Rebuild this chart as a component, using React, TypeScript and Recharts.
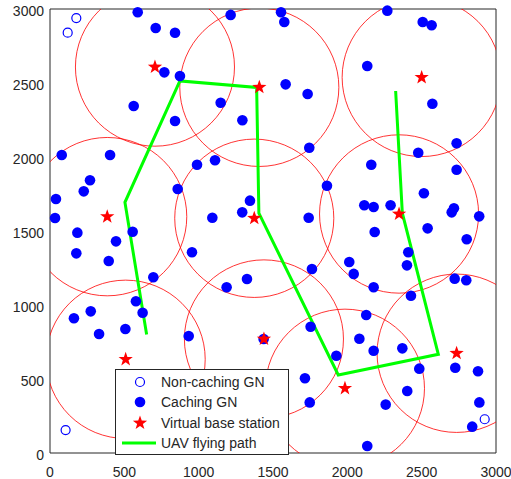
import React from "react"
import { ComposedChart, Scatter, XAxis, YAxis } from "recharts"

const TICKS = [0, 500, 1000, 1500, 2000, 2500, 3000]

const CACHING_GN = [
  { x: 590, y: 2978 }, { x: 711, y: 2872 }, { x: 841, y: 2840 }, { x: 769, y: 2572 },
  { x: 874, y: 2547 }, { x: 563, y: 2345 }, { x: 841, y: 2243 }, { x: 1148, y: 2367 },
  { x: 1294, y: 2248 }, { x: 1215, y: 2960 }, { x: 79, y: 2014 }, { x: 404, y: 2014 },
  { x: 269, y: 1843 }, { x: 227, y: 1768 }, { x: 40, y: 1716 }, { x: 34, y: 1588 },
  { x: 184, y: 1489 }, { x: 556, y: 1495 }, { x: 444, y: 1430 }, { x: 859, y: 1784 },
  { x: 989, y: 1948 }, { x: 1110, y: 1978 }, { x: 1345, y: 1705 }, { x: 1293, y: 1626 },
  { x: 1092, y: 1590 },
  { x: 1554, y: 2978 }, { x: 1576, y: 2912 }, { x: 1585, y: 2491 }, { x: 1733, y: 2426 },
  { x: 1744, y: 2063 }, { x: 1863, y: 1806 }, { x: 1740, y: 1590 }, { x: 2269, y: 2989 },
  { x: 2507, y: 2912 }, { x: 2567, y: 2890 }, { x: 2134, y: 2615 }, { x: 2572, y: 2360 },
  { x: 2735, y: 2093 }, { x: 2477, y: 2029 }, { x: 2161, y: 1948 }, { x: 2735, y: 1914 },
  { x: 2515, y: 1755 }, { x: 2114, y: 1674 }, { x: 2177, y: 1662 }, { x: 2291, y: 1674 },
  { x: 2717, y: 1653 }, { x: 2702, y: 1626 }, { x: 2887, y: 1599 }, { x: 2184, y: 1493 },
  { x: 2540, y: 1518 }, { x: 2803, y: 1444 },
  { x: 177, y: 1349 }, { x: 395, y: 1297 }, { x: 695, y: 1187 }, { x: 955, y: 1356 },
  { x: 578, y: 1025 }, { x: 623, y: 948 }, { x: 161, y: 910 }, { x: 274, y: 957 },
  { x: 330, y: 804 }, { x: 507, y: 838 }, { x: 933, y: 790 }, { x: 1188, y: 1120 },
  { x: 1325, y: 1176 }, { x: 1437, y: 770 },
  { x: 1762, y: 1243 }, { x: 2013, y: 1291 }, { x: 2043, y: 1210 }, { x: 2177, y: 1120 },
  { x: 2410, y: 1356 }, { x: 2401, y: 1268 }, { x: 2428, y: 1063 }, { x: 2722, y: 1178 },
  { x: 2800, y: 1167 }, { x: 2127, y: 932 }, { x: 1753, y: 853 }, { x: 2081, y: 772 },
  { x: 2177, y: 691 }, { x: 2370, y: 707 }, { x: 1926, y: 657 }, { x: 2484, y: 570 },
  { x: 2726, y: 576 }, { x: 2879, y: 552 }, { x: 1715, y: 505 }, { x: 1747, y: 342 },
  { x: 2403, y: 419 }, { x: 2258, y: 327 }, { x: 2888, y: 342 }, { x: 2840, y: 178 },
  { x: 2134, y: 47 },
]

const NON_CACHING_GN = [
  { x: 177, y: 2939 }, { x: 119, y: 2840 }, { x: 105, y: 155 }, { x: 2924, y: 228 },
]

const BASE_STATIONS = [
  { x: 706, y: 2608 }, { x: 1408, y: 2471 }, { x: 2500, y: 2538 }, { x: 385, y: 1597 },
  { x: 1374, y: 1586 }, { x: 2348, y: 1615 }, { x: 509, y: 633 }, { x: 1439, y: 770 },
  { x: 1984, y: 437 }, { x: 2735, y: 674 },
]

const UAV_PATH = [
  { x: 650, y: 800 }, { x: 504, y: 1694 }, { x: 874, y: 2514 }, { x: 1390, y: 2470 },
  { x: 1405, y: 1620 }, { x: 1939, y: 527 }, { x: 2612, y: 667 }, { x: 2370, y: 1620 },
  { x: 2325, y: 2446 },
]

const COVER_RADIUS = 535

const W = 511
const H = 479
const MARGIN = { top: 9, right: 15, bottom: 0, left: 0 }
const Y_W = 50
const X_H = 26
const PLOT_W = W - MARGIN.left - MARGIN.right - Y_W
const PLOT_H = H - MARGIN.top - MARGIN.bottom - X_H

const AXIS = "#262626"
const FONT = '"Liberation Sans", Arial, sans-serif'
const BLUE = "#0000ff"
const RED = "#ff0000"
const GREEN = "#00ff00"

function starPath(cx: number, cy: number, R: number, r: number) {
  let d = ""
  for (let i = 0; i < 10; i++) {
    const rad = i % 2 === 0 ? R : r
    const a = -Math.PI / 2 + (i * Math.PI) / 5
    d += (i === 0 ? "M" : "L") + (cx + rad * Math.cos(a)).toFixed(2) + "," + (cy + rad * Math.sin(a)).toFixed(2)
  }
  return d + "Z"
}

const FilledDot = (p: any) => <circle cx={p.cx} cy={p.cy} r={5.3} fill={BLUE} />
const OpenDot = (p: any) => (
  <circle cx={p.cx} cy={p.cy} r={4.5} fill="none" stroke={BLUE} strokeWidth={1.2} />
)
const Star = (p: any) => <path d={starPath(p.cx, p.cy, 7.5, 3)} fill={RED} />
const Cover = (p: any) => (
  <ellipse
    cx={p.cx}
    cy={p.cy}
    rx={(COVER_RADIUS * PLOT_W) / 3000}
    ry={(COVER_RADIUS * PLOT_H) / 3000}
    fill="none"
    stroke={RED}
    strokeWidth={0.8}
  />
)
const NoShape = () => <g />
const noLabel = () => ""

const tickStyle = { fill: AXIS, fontSize: 14, fontFamily: FONT }
const lineStyle = { stroke: AXIS, strokeWidth: 1 }

function LegendBox() {
  const rows = [
    { label: "Non-caching GN", icon: <circle cx={24} cy={10} r={4.5} fill="none" stroke={BLUE} strokeWidth={1.2} /> },
    { label: "Caching GN", icon: <circle cx={24} cy={10} r={5.3} fill={BLUE} /> },
    { label: "Virtual base station", icon: <path d={starPath(24, 10, 7.5, 3)} fill={RED} /> },
    { label: "UAV flying path", icon: <line x1={6} x2={40} y1={10} y2={10} stroke={GREEN} strokeWidth={3} /> },
  ]
  return (
    <div
      style={{
        position: "absolute",
        left: 115,
        top: 369,
        width: 172,
        height: 82,
        border: `1px solid ${AXIS}`,
        background: "#fff",
        fontFamily: FONT,
        fontSize: 14,
        color: AXIS,
        paddingTop: 2,
        boxSizing: "content-box",
      }}
    >
      {rows.map((r) => (
        <div key={r.label} style={{ display: "flex", alignItems: "center", height: 20.3 }}>
          <svg width={45} height={20} style={{ flex: "none" }}>
            {r.icon}
          </svg>
          <span style={{ whiteSpace: "nowrap" }}>{r.label}</span>
        </div>
      ))}
    </div>
  )
}

export default function App() {
  const common = { type: "number" as const, domain: [0, 3000], ticks: TICKS, interval: 0 as const }
  return (
    <div style={{ position: "absolute", left: 0, top: 0, width: W, height: H, background: "#fff" }}>
      <ComposedChart width={W} height={H} margin={MARGIN}>
        {/* hidden zero-size axes so the coverage circles get clipped to the plot */}
        <XAxis xAxisId="c" type="number" dataKey="x" domain={[0, 3000]} hide height={0} allowDataOverflow />
        <YAxis yAxisId="c" type="number" dataKey="y" domain={[0, 3000]} hide width={0} allowDataOverflow />
        {/* labelled axes */}
        <XAxis
          xAxisId="b"
          dataKey="x"
          {...common}
          height={X_H}
          axisLine={lineStyle}
          tickLine={false}
          tickSize={0}
          tickMargin={14}
          tick={tickStyle}
        />
        <YAxis
          yAxisId="l"
          dataKey="y"
          {...common}
          width={Y_W}
          axisLine={lineStyle}
          tickLine={false}
          tickSize={0}
          tickMargin={6}
          tick={{ ...tickStyle, dy: 2 }}
        />
        {/* inward ticks on all four sides */}
        <XAxis xAxisId="bm" dataKey="x" {...common} orientation="bottom" mirror height={6}
          axisLine={false} tickLine={lineStyle} tickSize={4} tickFormatter={noLabel} />
        <XAxis xAxisId="t" dataKey="x" {...common} orientation="top" mirror height={6}
          axisLine={lineStyle} tickLine={lineStyle} tickSize={4} tickFormatter={noLabel} />
        <YAxis yAxisId="lm" dataKey="y" {...common} orientation="left" mirror width={6}
          axisLine={false} tickLine={lineStyle} tickSize={4} tickFormatter={noLabel} />
        <YAxis yAxisId="r" dataKey="y" {...common} orientation="right" mirror width={6}
          axisLine={lineStyle} tickLine={lineStyle} tickSize={4} tickFormatter={noLabel} />

        <Scatter data={BASE_STATIONS} xAxisId="c" yAxisId="c" shape={Cover} isAnimationActive={false} />
        <Scatter
          data={UAV_PATH}
          xAxisId="b"
          yAxisId="l"
          line={{ stroke: GREEN, strokeWidth: 3 }}
          shape={NoShape}
          isAnimationActive={false}
        />
        <Scatter data={CACHING_GN} xAxisId="b" yAxisId="l" shape={FilledDot} isAnimationActive={false} />
        <Scatter data={NON_CACHING_GN} xAxisId="b" yAxisId="l" shape={OpenDot} isAnimationActive={false} />
        <Scatter data={BASE_STATIONS} xAxisId="b" yAxisId="l" shape={Star} isAnimationActive={false} />
      </ComposedChart>
      <LegendBox />
    </div>
  )
}
